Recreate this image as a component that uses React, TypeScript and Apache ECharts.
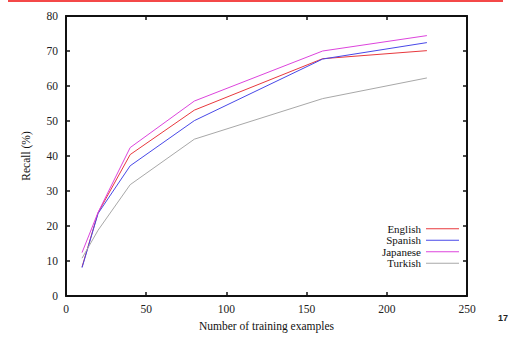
import React, { useEffect, useRef } from "react";
import * as echarts from "echarts";

const trainingSizes = [10, 20, 40, 80, 160, 225];
const english = [8.3, 23.8, 40.4, 53.1, 67.8, 70.1];
const spanish = [8.1, 23.6, 37.2, 50.1, 67.7, 72.4];
const japanese = [12.4, 23.9, 42.4, 55.7, 70.0, 74.4];
const turkish = [10.8, 18.8, 31.8, 44.8, 56.4, 62.3];

const seriesNames = ["English", "Spanish", "Japanese", "Turkish"];
const seriesData = [english, spanish, japanese, turkish];
const seriesColors = ["#e8383d", "#4848e8", "#dd44dd", "#a8a8a8"];

const serif = "'Liberation Serif', 'Times New Roman', serif";

export default function App() {
  const ref = useRef<HTMLDivElement>(null);
  useEffect(() => {
    if (!ref.current) return;
    const chart = echarts.init(ref.current, null, { renderer: "svg" });
    const tickLabel = { fontFamily: serif, fontSize: 11.5, color: "#222" };
    const axisLine = { show: true, onZero: false, lineStyle: { color: "#111", width: 2 } };
    const tick = { show: true, inside: true, length: 4, lineStyle: { color: "#111", width: 1.5 } };
    chart.setOption({
      animation: false,
      backgroundColor: "#fff",
      grid: { left: 66, right: 44, top: 16, bottom: 39, containLabel: false },
      graphic: [
        { type: "line", shape: { x1: 8, y1: 1, x2: 503, y2: 1 }, style: { stroke: "#f44848", lineWidth: 2 } },
        { type: "text", x: 508, y: 318, style: { text: "17", fill: "#222", font: "bold 9px Arial, 'Liberation Sans', sans-serif", align: "right", verticalAlign: "middle" } },
      ],
      legend: {
        orient: "vertical",
        align: "right",
        right: 52,
        top: 223,
        padding: 0,
        icon: "rect",
        itemWidth: 33,
        itemHeight: 1.2,
        itemGap: 0,
        textStyle: { fontFamily: serif, fontSize: 11, color: "#111", lineHeight: 11.5 },
        data: seriesNames,
      },
      xAxis: [
        {
          type: "value", min: 0, max: 250, interval: 50, position: "bottom",
          name: "Number of training examples", nameLocation: "middle", nameGap: 24,
          nameTextStyle: { fontFamily: serif, fontSize: 11.5, color: "#111" },
          axisLine, axisTick: tick, splitLine: { show: false },
          axisLabel: { ...tickLabel, margin: 7 },
        },
        {
          type: "value", min: 0, max: 250, interval: 50, position: "top",
          axisLine, axisTick: tick, splitLine: { show: false }, axisLabel: { show: false },
        },
      ],
      yAxis: [
        {
          type: "value", min: 0, max: 80, interval: 10, position: "left",
          name: "Recall (%)", nameLocation: "middle", nameGap: 34,
          nameTextStyle: { fontFamily: serif, fontSize: 11.5, color: "#111" },
          axisLine, axisTick: tick, splitLine: { show: false },
          axisLabel: { ...tickLabel, margin: 8 },
        },
        {
          type: "value", min: 0, max: 80, interval: 10, position: "right",
          axisLine, axisTick: tick, splitLine: { show: false }, axisLabel: { show: false },
        },
      ],
      series: seriesNames.map((name, i) => ({
        name,
        type: "line",
        symbol: "none",
        data: trainingSizes.map((x, j) => [x, seriesData[i][j]]),
        lineStyle: { color: seriesColors[i], width: 1 },
        itemStyle: { color: seriesColors[i] },
      })),
    });
    return () => chart.dispose();
  }, []);
  return <div ref={ref} style={{ width: 511, height: 337, position: "absolute", left: 0, top: 0 }} />;
}
